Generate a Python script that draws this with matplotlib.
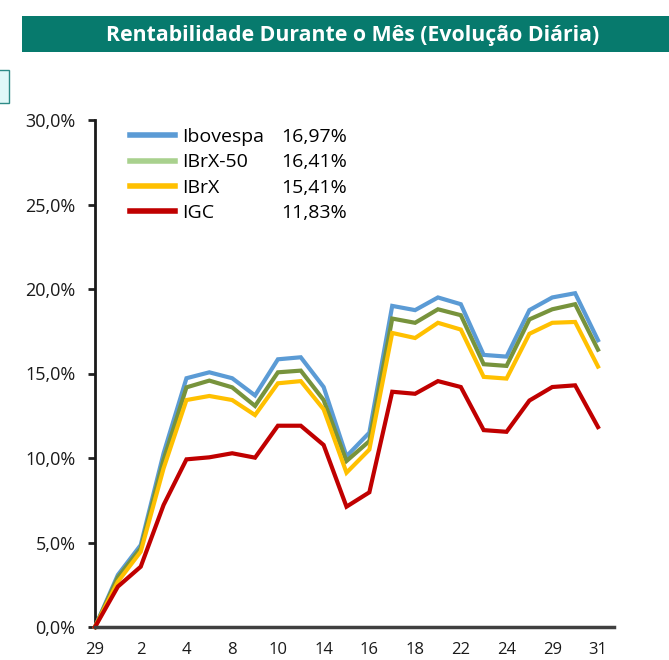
import matplotlib
matplotlib.use("Agg")
import matplotlib.pyplot as plt
from matplotlib.patches import Rectangle
from matplotlib.lines import Line2D

plt.rcParams['font.family'] = ['Open Sans', 'DejaVu Sans']

# ---- data ----
dates = ["29", "1", "2", "3", "4", "7", "8", "9", "10", "11", "14", "15",
         "16", "17", "18", "21", "22", "23", "24", "28", "29", "30", "31"]
ibovespa = [0.0, 3.08, 4.85, 10.28, 14.72, 15.07, 14.72, 13.70, 15.84, 15.96,
            14.20, 10.10, 11.50, 19.00, 18.75, 19.50, 19.10, 16.10, 16.00,
            18.75, 19.50, 19.75, 16.97]
ibrx50 = [0.0, 2.94, 4.66, 9.90, 14.18, 14.58, 14.18, 13.08, 15.07, 15.17,
          13.43, 9.82, 11.00, 18.25, 18.00, 18.80, 18.45, 15.55, 15.45,
          18.20, 18.80, 19.10, 16.41]
ibrx = [0.0, 2.68, 4.46, 9.39, 13.43, 13.67, 13.43, 12.54, 14.42, 14.55,
        12.88, 9.13, 10.50, 17.40, 17.10, 18.00, 17.60, 14.80, 14.70,
        17.35, 18.00, 18.05, 15.41]
igc = [0.0, 2.39, 3.57, 7.22, 9.92, 10.04, 10.28, 10.02, 11.91, 11.91,
       10.77, 7.12, 7.97, 13.92, 13.80, 14.55, 14.20, 11.65, 11.55,
       13.40, 14.20, 14.30, 11.83]
series_names = ["Ibovespa", "IBrX-50", "IBrX", "IGC"]
final_values = ["16,97%", "16,41%", "15,41%", "11,83%"]
yticks = [0, 5, 10, 15, 20, 25, 30]
title = "Rentabilidade Durante o Mês (Evolução Diária)"

line_colors = ["#5B9BD5", "#77933C", "#FFC000", "#C00000"]
legend_colors = ["#5B9BD5", "#A9D18E", "#FFC000", "#C00000"]

W, H = 669, 660
fig = plt.figure(figsize=(W / 100, H / 100), dpi=100)

# title banner
fig.patches.append(Rectangle((22 / W, 1 - 52 / H), 1 - 22 / W, 36 / H,
                             transform=fig.transFigure, facecolor="#077A6D",
                             edgecolor="none"))
fig.text(353 / W, 1 - 35 / H, title, color="white", fontsize=15.3,
         fontweight="bold", ha="center", va="center")
# small box on the left
fig.patches.append(Rectangle((-2 / W, 1 - 103 / H), 11 / W, 33 / H,
                             transform=fig.transFigure, facecolor="#E0F8F8",
                             edgecolor="#2E8B87", linewidth=1))

ax = fig.add_axes([95 / W, 1 - 627 / H, (614 - 95) / W, (627 - 120) / H])
x = list(range(len(dates)))
for vals, c in zip([ibovespa, ibrx50, ibrx, igc], line_colors):
    ax.plot(x, vals, color=c, linewidth=3.0, solid_joinstyle="miter",
            clip_on=False, zorder=3)

ax.set_xlim(0, 22.7)
ax.set_ylim(0, 30)
ax.set_yticks(yticks)
ax.set_yticklabels([f"{v:.1f}%".replace(".", ",") for v in yticks],
                   fontsize=13, color="#1a1a1a")
ax.set_xticks(x[::2])
ax.set_xticklabels(dates[::2], fontsize=12, color="#1a1a1a")
ax.tick_params(axis="x", length=0, pad=10.5)
ax.tick_params(axis="y", length=5, width=2, color="#222222", pad=9)
for s in ["top", "right"]:
    ax.spines[s].set_visible(False)
ax.spines["left"].set_linewidth(2)
ax.spines["left"].set_color("#1a1a1a")
ax.spines["bottom"].set_linewidth(2.5)
ax.spines["bottom"].set_color("#404040")
ax.spines["bottom"].set_zorder(4)

handles = [Line2D([], [], color=c, linewidth=4) for c in legend_colors]
leg1 = ax.legend(handles, series_names, loc="upper left",
                 bbox_to_anchor=(130 / W, 1 - 128 / H),
                 bbox_transform=fig.transFigure, frameon=False, fontsize=14,
                 handlelength=2.3, handletextpad=0.4, labelspacing=0.38,
                 borderpad=0, borderaxespad=0)
ax.add_artist(leg1)
blank = [Line2D([], [], color="none") for _ in final_values]
ax.legend(blank, final_values, loc="upper left",
          bbox_to_anchor=(281 / W, 1 - 128 / H),
          bbox_transform=fig.transFigure, frameon=False, fontsize=14,
          handlelength=0, handletextpad=0, labelspacing=0.38,
          borderpad=0, borderaxespad=0)

fig.savefig("out.png", dpi=100)
